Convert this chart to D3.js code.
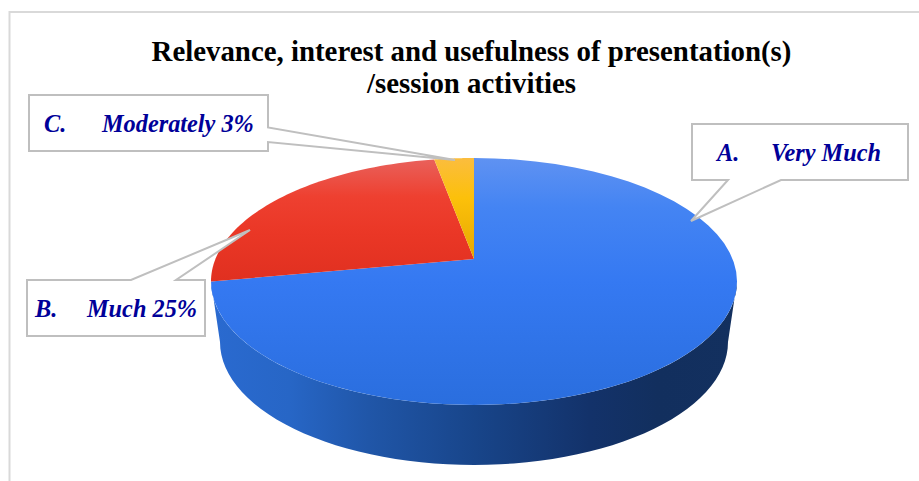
<!DOCTYPE html>
<html><head><meta charset="utf-8">
<script src="https://cdn.jsdelivr.net/npm/d3@7"></script>
<style>html,body{margin:0;padding:0;background:#fff}svg{display:block}
text{font-family:"Liberation Serif",serif}</style></head>
<body><svg id="c" width="919" height="481"></svg>
<script>
const categories=["A.","B.","C."];
const names=["Very Much","Much 25%","Moderately 3%"];
const values=[72,25,3];
const titleLines=["Relevance, interest and usefulness of presentation(s)","/session activities"];

const svg=d3.select("#c");
const defs=svg.append("defs");
function vgrad(id,stops,y1,y2){const g=defs.append("linearGradient").attr("id",id).attr("gradientUnits","userSpaceOnUse")
 .attr("x1",0).attr("x2",0).attr("y1",y1).attr("y2",y2);
 stops.forEach(s=>g.append("stop").attr("offset",s[0]).attr("stop-color",s[1]));}
vgrad("gA",[[0,"#5f92f2"],[.2,"#4484f3"],[.5,"#3579f2"],[1,"#2a6ede"]],158,405);
vgrad("gB",[[0,"#e9605a"],[.3,"#ee4030"],[.6,"#ea3726"],[1,"#e03020"]],160,282);
vgrad("gC",[[0,"#fbbd3e"],[.4,"#fcc00a"],[1,"#e6a800"]],158,259);
const w=defs.append("linearGradient").attr("id","gW").attr("gradientUnits","userSpaceOnUse")
 .attr("x1",211).attr("x2",737).attr("y1",0).attr("y2",0);
[[0,"#2a6ad0"],[.15,"#2766c6"],[.3,"#2056a8"],[.5,"#18458a"],[.72,"#13326a"],[.85,"#122f5e"],[1,"#13305f"]]
 .forEach(s=>w.append("stop").attr("offset",s[0]).attr("stop-color",s[1]));

// frame
svg.append("path").attr("d","M9.5,481V12H919").attr("fill","none").attr("stroke","#d9d9d9").attr("stroke-width",2);

// projection
const top_={cx:474,cy:281.5,rx:263,ry:123.5}, bot={cx:474,cy:342,rx:254,ry:123};
const apex=[474,259];
const warp=d3.scaleLinear().domain([0,259.2,349.2,360]).range([0,270,351.3,360]);
const pt=(e,a)=>[e.cx+e.rx*Math.sin(a),e.cy-e.ry*Math.cos(a)];
const line=d3.line();
const arc=(e,a0,a1)=>d3.range(0,61).map(i=>pt(e,a0+(a1-a0)*i/60));

// wall
const wallPts=arc(top_,Math.PI/2,Math.PI*1.5).concat(arc(bot,Math.PI*1.5,Math.PI/2));
svg.append("path").attr("d",line(wallPts)+"Z").attr("fill","url(#gW)");

// slices
const pie=d3.pie().sort(null).value(d=>d)(values);
const fills=["url(#gA)","url(#gB)","url(#gC)"];
const toRad=a=>warp(a*180/Math.PI)*Math.PI/180;
svg.selectAll("path.s").data(pie).join("path").attr("class","s")
 .attr("d",d=>line([apex,...arc(top_,toRad(d.startAngle),toRad(d.endAngle))])+"Z")
 .attr("fill",(d,i)=>fills[i]);

// title
svg.selectAll("text.t").data(titleLines).join("text").attr("class","t")
 .attr("x",471.5).attr("y",(d,i)=>60.5+i*32.5).attr("text-anchor","middle")
 .attr("font-size",28.85).attr("font-weight","bold").attr("fill","#000").text(d=>d);

// callouts
const callouts=[
 {box:[692,124,908,180],side:"b",p:[728,781],tip:[691,221],lx:717,nx:771,ty:161},
 {box:[27,280,205,336],side:"t",p:[131,176],tip:[250,230],lx:35,nx:87,ty:317},
 {box:[29,95,268,151],side:"r",p:[127.5,142],tip:[455,160],lx:44,nx:102,ty:132}
];
callouts.forEach((c,i)=>{
 const [x0,y0,x1,y1]=c.box;let pts;
 if(c.side==="b")pts=[[x0,y0],[x1,y0],[x1,y1],[c.p[1],y1],c.tip,[c.p[0],y1],[x0,y1]];
 if(c.side==="t")pts=[[x0,y0],[c.p[0],y0],c.tip,[c.p[1],y0],[x1,y0],[x1,y1],[x0,y1]];
 if(c.side==="r")pts=[[x0,y0],[x1,y0],[x1,c.p[0]],c.tip,[x1,c.p[1]],[x1,y1],[x0,y1]];
 svg.append("path").attr("d",line(pts)+"Z").attr("fill","#fff").attr("stroke","#bfbfbf").attr("stroke-width",2);
 const g=svg.append("g").attr("font-size",24.3).attr("font-weight","bold").attr("font-style","italic").attr("fill","#000099");
 g.append("text").attr("x",c.lx).attr("y",c.ty).text(categories[i]);
 g.append("text").attr("x",c.nx).attr("y",c.ty).text(names[i]);
});
</script></body></html>
